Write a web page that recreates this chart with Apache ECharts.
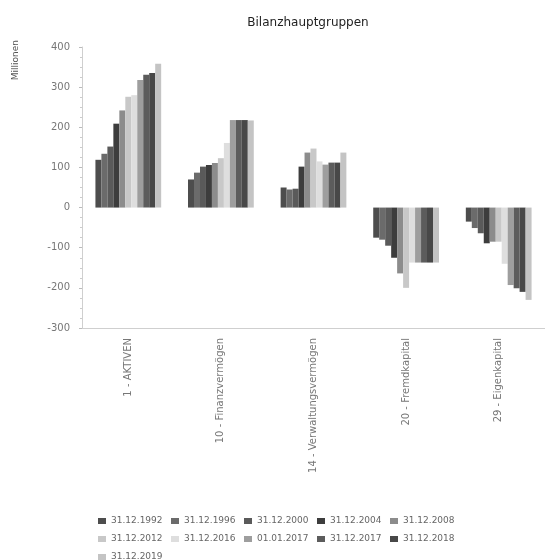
<!DOCTYPE html>
<html>
<head>
<meta charset="utf-8">
<script src="https://cdn.jsdelivr.net/npm/echarts@6/dist/echarts.min.js"></script>
<style>html,body{margin:0;padding:0;background:#fff}#c{width:545px;height:560px}</style>
</head>
<body>
<div id="c"></div>
<script>
const categories = ["1 - AKTIVEN", "10 - Finanzvermögen", "14 - Verwaltungsvermögen", "20 - Fremdkapital", "29 - Eigenkapital"];
const seriesNames = ["31.12.1992", "31.12.1996", "31.12.2000", "31.12.2004", "31.12.2008", "31.12.2012", "31.12.2016", "01.01.2017", "31.12.2017", "31.12.2018", "31.12.2019"];
const v1992 = [119, 70, 50, -75, -35];
const v1996 = [134, 87, 45, -80, -51];
const v2000 = [152, 102, 47, -95, -64];
const v2004 = [209, 106, 102, -125, -89];
const v2008 = [242, 111, 137, -164, -85];
const v2012 = [276, 123, 147, -200, -85];
const v2016 = [280, 161, 115, -137, -140];
const v01012017 = [318, 218, 107, -137, -193];
const v2017 = [331, 218, 112, -137, -201];
const v2018 = [335, 218, 112, -137, -210];
const v2019 = [358, 217, 137, -137, -230];
const yTicks = [-300, -200, -100, 0, 100, 200, 300, 400];

const allValues = [v1992, v1996, v2000, v2004, v2008, v2012, v2016, v01012017, v2017, v2018, v2019];
const colors = ["#4d4d4d", "#6b6b6b", "#5a5a5a", "#3d3d3d", "#8c8c8c", "#c8c8c8", "#dedede", "#9e9e9e", "#5c5c5c", "#484848", "#c4c4c4"];

const chart = echarts.init(document.getElementById('c'));
chart.setOption({
  animation: false,
  backgroundColor: '#fff',
  color: colors,
  title: {
    text: 'Bilanzhauptgruppen',
    left: 303, top: 12, textAlign: 'center',
    textStyle: { fontFamily: 'DejaVu Sans', fontSize: 12, fontWeight: 'normal', color: '#222' }
  },
  graphic: [{
    type: 'text', x: 16, y: 40, rotation: Math.PI / 2,
    style: { text: 'Millionen', fill: '#555', font: '9px "DejaVu Sans"', align: 'right', verticalAlign: 'middle' }
  }],
  legend: {
    left: 93, top: 510, width: 375,
    itemWidth: 8, itemHeight: 6, itemGap: 6,
    icon: 'rect',
    textStyle: { fontFamily: 'DejaVu Sans', fontSize: 9, color: '#666', width: 54, overflow: 'none', lineHeight: 12 },
    data: seriesNames
  },
  grid: { left: 82, top: 47, width: 475, height: 281 },
  xAxis: {
    type: 'category', data: categories, position: 'bottom',
    axisLine: { onZero: false, lineStyle: { color: '#cfcfcf' } },
    axisTick: { show: false },
    axisLabel: { rotate: 90, margin: 10, fontFamily: 'DejaVu Sans', fontSize: 10, color: '#777' }
  },
  yAxis: {
    type: 'value', min: -300, max: 400, interval: 100,
    axisLine: { show: true, lineStyle: { color: '#cfcfcf' } },
    axisTick: { show: true, length: 3, lineStyle: { color: '#bbb' } },
    minorTick: { show: true, splitNumber: 4, length: 2, lineStyle: { color: '#ccc' } },
    splitLine: { show: false },
    axisLabel: { margin: 12, fontFamily: 'DejaVu Sans', fontSize: 10, color: '#777',
      formatter: function (v) { return yTicks.indexOf(v) >= 0 ? String(v) : ''; } }
  },
  series: seriesNames.map(function (name, i) {
    return {
      name: name, type: 'bar', data: allValues[i],
      barGap: '0%', barCategoryGap: '29%',
      itemStyle: { color: colors[i] }
    };
  })
});
</script>
</body>
</html>
